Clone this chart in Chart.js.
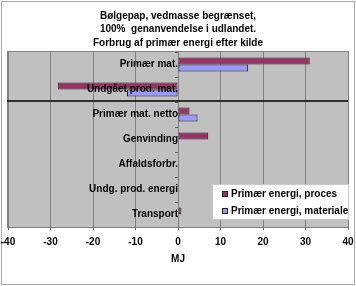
<!DOCTYPE html>
<html>
<head>
<meta charset="utf-8">
<script src="https://cdn.jsdelivr.net/npm/chart.js@4/dist/chart.umd.min.js"></script>
<style>
  body { margin: 0; background: #fff; }
</style>
</head>
<body>
<canvas id="energy_chart" width="356" height="286"></canvas>
<script>
const titleLines = [
  "Bølgepap, vedmasse begrænset,",
  "100%  genanvendelse i udlandet.",
  "Forbrug af primær energi efter kilde",
];
const categories = [
  "Primær mat.",
  "Undgået prod. mat.",
  "Primær mat. netto",
  "Genvinding",
  "Affaldsforbr.",
  "Undg. prod. energi",
  "Transport",
];
const procesValues = [31, -28.3, 2.7, 7.1, 0, 0, 0.8];
const materialeValues = [16.5, -12, 4.6, 0, 0, 0, 0];
const seriesNames = ["Primær energi, proces", "Primær energi, materiale"];
const seriesColors = ["#993366", "#9999ff"];
const xMin = -40, xMax = 40, xStep = 10;
const axisTitle = "MJ";

const FONT = "'Liberation Sans', Arial, sans-serif";

// plot background, outer frame, divider line and the boxed legend
const decorations = {
  id: "decorations",
  beforeDraw(chart) {
    const ctx = chart.ctx;
    const a = chart.chartArea;
    ctx.save();
    ctx.strokeStyle = "#a8a8a8";
    ctx.lineWidth = 1;
    ctx.strokeRect(1.5, 1.5, chart.width - 3, chart.height - 3);
    ctx.fillStyle = "#c0c0c0";
    ctx.fillRect(a.left, a.top, a.right - a.left, a.bottom - a.top);
    ctx.strokeStyle = "#808080";
    ctx.strokeRect(a.left - 0.5, a.top - 0.5, a.right - a.left + 1, a.bottom - a.top + 1);
    ctx.restore();
  },
  afterDraw(chart) {
    const ctx = chart.ctx;
    const a = chart.chartArea;
    const y = chart.scales.y;
    ctx.save();
    // black divider between the two upper rows and the rest
    const yLine = Math.round(y.getPixelForValue(1.5)) - 1;
    ctx.strokeStyle = "#000";
    ctx.lineWidth = 1.5;
    ctx.beginPath();
    ctx.moveTo(a.left - 1, yLine);
    ctx.lineTo(a.right, yLine);
    ctx.stroke();

    // legend
    const lx = a.right - 136, ly = a.bottom - 43;
    ctx.fillStyle = "#fff";
    ctx.fillRect(lx, ly, 137, 36);
    ctx.strokeStyle = "#c8c8c8";
    ctx.lineWidth = 1;
    ctx.strokeRect(lx + 0.5, ly + 0.5, 136, 35);
    ctx.font = "bold 10px " + FONT;
    ctx.textBaseline = "middle";
    seriesNames.forEach((name, i) => {
      const cy = ly + 10 + i * 17;
      ctx.fillStyle = seriesColors[i];
      ctx.fillRect(lx + 10, cy - 3, 6, 6);
      ctx.strokeStyle = "#222";
      ctx.strokeRect(lx + 10.5, cy - 2.5, 5, 5);
      ctx.fillStyle = "#000";
      ctx.fillText(name, lx + 19, cy);
    });
    ctx.restore();
  },
};

const canvas = document.getElementById("energy_chart");
const chart = new Chart(canvas, {
  type: "bar",
  data: {
    labels: categories,
    datasets: [
      {
        label: seriesNames[0],
        data: procesValues,
        backgroundColor: seriesColors[0],
        borderColor: "#222",
        borderWidth: 1,
        borderSkipped: false,
      },
      {
        label: seriesNames[1],
        data: materialeValues,
        backgroundColor: seriesColors[1],
        borderColor: "#222",
        borderWidth: 1,
        borderSkipped: false,
      },
    ],
  },
  options: {
    indexAxis: "y",
    responsive: false,
    animation: false,
    events: [],
    categoryPercentage: 0.56,
    barPercentage: 1,
    layout: { padding: { left: 8, right: 8, top: 0, bottom: 0 } },
    plugins: {
      legend: { display: false },
      tooltip: { enabled: false },
      title: {
        display: true,
        text: titleLines,
        color: "#000",
        font: { family: FONT, size: 10, weight: "bold", lineHeight: 1.35 },
        padding: { top: 9, bottom: 2.5 },
      },
    },
    scales: {
      x: {
        min: xMin,
        max: xMax,
        afterFit: (s) => {
          s.height = 59;
          s.paddingLeft = 0;
          s.paddingRight = 0;
        },
        ticks: {
          stepSize: xStep,
          color: "#000",
          padding: 6,
          maxRotation: 0,
          font: { family: FONT, size: 10, weight: "bold" },
        },
        grid: { color: "#808080", tickLength: 3, drawTicks: true },
        border: { color: "#808080" },
        title: {
          display: true,
          text: axisTitle,
          color: "#000",
          font: { family: FONT, size: 10, weight: "bold" },
          padding: { top: 0, bottom: 21 },
        },
      },
      y: {
        position: { x: 0 },
        afterFit: (s) => {
          s.paddingTop = 0;
          s.paddingBottom = 0;
        },
        ticks: {
          z: 1,
          color: "#000",
          padding: 5,
          font: { family: FONT, size: 10, weight: "bold" },
        },
        grid: { drawOnChartArea: false, drawTicks: true, tickLength: 3, color: "#606060" },
        border: { display: false },
      },
    },
  },
  plugins: [decorations],
});
</script>
</body>
</html>
